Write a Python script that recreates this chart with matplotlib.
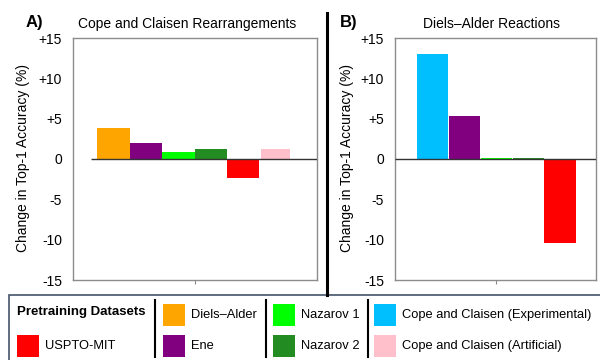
import matplotlib.pyplot as plt
from matplotlib.patches import Rectangle
from matplotlib.lines import Line2D

plt.rcParams['font.family'] = ['Liberation Sans', 'DejaVu Sans']

# panel A: Cope and Claisen rearrangements
a_labels = ["Diels–Alder", "Ene", "Nazarov 1", "Nazarov 2", "USPTO-MIT",
            "Cope and Claisen (Artificial)"]
a_vals = [3.8, 2.0, 0.9, 1.2, -2.3, 1.3]

# panel B: Diels-Alder reactions
b_labels = ["Cope and Claisen (Experimental)", "Ene", "Nazarov 1", "Nazarov 2",
            "USPTO-MIT"]
b_vals = [13.0, 5.3, 0.15, 0.12, -10.4]

colors = {
    "USPTO-MIT": "#ff0000",
    "Diels–Alder": "#ffa500",
    "Ene": "#800080",
    "Nazarov 1": "#00ff00",
    "Nazarov 2": "#228b22",
    "Cope and Claisen (Experimental)": "#00bfff",
    "Cope and Claisen (Artificial)": "#ffc0cb",
}

yticks = [15, 10, 5, 0, -5, -10, -15]
yticklabels = ["+15", "+10", "+5", "0", "-5", "-10", "-15"]

W, H = 600, 360
fig = plt.figure(figsize=(6, 3.6), dpi=100)


def fx(x):
    return x / W


def fy(y):
    return 1 - y / H


def panel(rect, labels, vals, widths, xlim, xmid, zero_start):
    ax = fig.add_axes(rect)
    xs = list(range(len(vals)))
    ax.bar(xs, vals, width=widths, color=[colors[l] for l in labels])
    ax.hlines(0, zero_start, xlim[1], color="#333333", lw=1, zorder=3)
    ax.set_xlim(*xlim)
    ax.set_ylim(-15, 15)
    ax.set_yticks(yticks)
    ax.set_yticklabels(yticklabels)
    ax.set_xticks([xmid])
    ax.set_xticklabels([""])
    ax.tick_params(axis="y", length=0, pad=8, labelsize=10)
    ax.tick_params(axis="x", length=3, color="#888888")
    for s in ax.spines.values():
        s.set_color("#8c8c8c")
        s.set_linewidth(1)
    return ax


ax1 = panel([fx(73), fy(280), fx(244), (280 - 38) / H], a_labels, a_vals,
            [1, 1, 1, 1, 1, 0.88], (-1.24, 6.27), 2.5, -0.68)
ax2 = panel([fx(395), fy(280), fx(201), (280 - 38) / H], b_labels, b_vals,
            0.98, (-1.19, 5.13), 2.0, -1.19)

# y labels
fig.text(fx(23), fy(158), "Change in Top-1 Accuracy (%)", rotation=90,
         ha="center", va="center", fontsize=10)
fig.text(fx(347), fy(158), "Change in Top-1 Accuracy (%)", rotation=90,
         ha="center", va="center", fontsize=10)

# titles
fig.text(fx(26), fy(23), "A)", fontsize=12, fontweight="bold", va="center")
fig.text(fx(340), fy(23), "B)", fontsize=12, fontweight="bold", va="center")
fig.text(fx(187), fy(24), "Cope and Claisen Rearrangements", fontsize=10,
         ha="center", va="center")
fig.text(fx(492), fy(24), "Diels–Alder Reactions", fontsize=10,
         ha="center", va="center")

# divider between panels
fig.add_artist(Line2D([fx(327), fx(327)], [fy(13), fy(295)], color="black",
                      lw=2.2, transform=fig.transFigure))

# legend box
fig.add_artist(Rectangle((fx(9), fy(370)), fx(600), (370 - 295) / H,
                         transform=fig.transFigure, fill=False,
                         edgecolor="#44546a", lw=1.2, clip_on=False))
fig.text(fx(17), fy(312), "Pretraining Datasets", fontsize=9.5,
         fontweight="bold", va="center")
for xd in [155, 266, 368]:
    fig.add_artist(Line2D([fx(xd), fx(xd)], [fy(300), fy(357)], color="black",
                          lw=1.5, transform=fig.transFigure))

legend_items = [
    ("USPTO-MIT", 17, 346),
    ("Diels–Alder", 163, 315),
    ("Ene", 163, 346),
    ("Nazarov 1", 273, 315),
    ("Nazarov 2", 273, 346),
    ("Cope and Claisen (Experimental)", 374, 315),
    ("Cope and Claisen (Artificial)", 374, 346),
]
for name, x0, yc in legend_items:
    fig.add_artist(Rectangle((fx(x0), fy(yc + 11)), fx(22), 22 / H,
                             transform=fig.transFigure,
                             facecolor=colors[name], edgecolor="none"))
    fig.text(fx(x0 + 28), fy(yc), name, fontsize=9.3, va="center")

fig.savefig("out.png", dpi=100)
